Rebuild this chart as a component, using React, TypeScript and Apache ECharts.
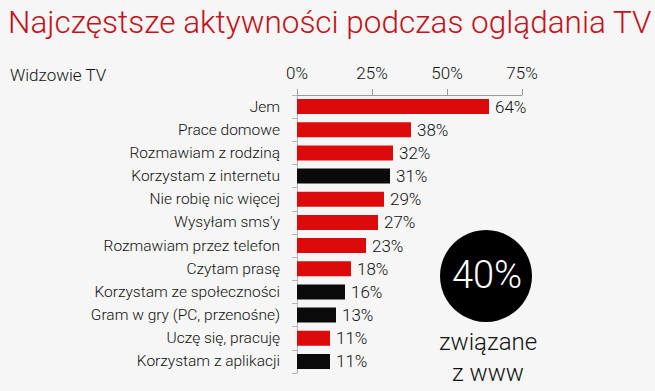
import React, { useEffect, useRef } from "react";
import * as echarts from "echarts";

const categories = [
  "Jem",
  "Prace domowe",
  "Rozmawiam z rodziną",
  "Korzystam z internetu",
  "Nie robię nic więcej",
  "Wysyłam sms’y",
  "Rozmawiam przez telefon",
  "Czytam prasę",
  "Korzystam ze społeczności",
  "Gram w gry (PC, przenośne)",
  "Uczę się, pracuję",
  "Korzystam z aplikacji",
];
const values = [64, 38, 32, 31, 29, 27, 23, 18, 16, 13, 11, 11];
const webRelated = [false, false, false, true, false, false, false, false, true, true, false, true];
const tickValues = [0, 25, 50, 75];
const titleText = "Najczęstsze aktywności podczas oglądania TV";
const subtitleText = "Widzowie TV";
const highlightValue = "40%";
const highlightCaption = "związane\nz www";

const RED = "#dc0a0a";
const BLACK = "#0a0a0a";
const FONT = "Roboto, 'Liberation Sans', sans-serif";

export default function App() {
  const ref = useRef<HTMLDivElement>(null);
  useEffect(() => {
    if (!ref.current) return;
    const chart = echarts.init(ref.current, undefined, { renderer: "svg" });
    chart.setOption({
      animation: false,
      backgroundColor: "#f6f6f6",
      textStyle: { fontFamily: FONT },
      title: [
        {
          text: titleText,
          left: 3,
          top: 1,
          textStyle: { fontFamily: FONT, fontWeight: 300, fontSize: 31.5, color: "#c4121c" },
        },
        {
          text: subtitleText,
          left: 5,
          top: 61,
          textStyle: { fontFamily: FONT, fontWeight: 300, fontSize: 17, color: "#111" },
        },
      ],
      grid: { left: 297, right: 133, top: 95, bottom: 18, containLabel: false },
      xAxis: {
        type: "value",
        position: "top",
        min: tickValues[0],
        max: tickValues[tickValues.length - 1],
        interval: 25,
        axisLine: { show: true, lineStyle: { color: "#9a9a9a", width: 1 } },
        axisTick: { show: true, length: 6, lineStyle: { color: "#9a9a9a" } },
        splitLine: { show: false },
        axisLabel: {
          formatter: "{value}%",
          fontFamily: FONT,
          fontWeight: 300,
          fontSize: 17,
          color: "#111",
          margin: 14,
        },
      },
      yAxis: {
        type: "category",
        data: categories,
        inverse: true,
        axisLine: { show: true, lineStyle: { color: "#b5b5b5" } },
        axisTick: { show: true, length: 5, lineStyle: { color: "#b5b5b5" } },
        axisLabel: { fontFamily: FONT, fontWeight: 300, fontSize: 15.5, color: "#111", margin: 17 },
      },
      series: [
        {
          type: "bar",
          barWidth: 15,
          data: values.map((v, i) => ({
            value: v,
            itemStyle: { color: webRelated[i] ? BLACK : RED },
          })),
          label: {
            show: true,
            position: "right",
            distance: 6,
            formatter: "{c}%",
            fontFamily: FONT,
            fontWeight: 300,
            fontSize: 17,
            color: "#111",
          },
        },
      ],
      graphic: [
        {
          type: "circle",
          shape: { cx: 486, cy: 276, r: 46 },
          style: { fill: "#000" },
        },
        {
          type: "text",
          x: 487,
          y: 275,
          style: {
            text: highlightValue,
            fill: "#fff",
            fontFamily: FONT,
            fontWeight: 300,
            fontSize: 38,
            align: "center",
            verticalAlign: "middle",
          },
        },
        {
          type: "text",
          x: 488,
          y: 357,
          style: {
            text: highlightCaption,
            fill: "#111",
            fontFamily: FONT,
            fontWeight: 300,
            fontSize: 24,
            lineHeight: 31,
            align: "center",
            verticalAlign: "middle",
          },
        },
      ],
    });
    return () => chart.dispose();
  }, []);
  return (
    <div
      ref={ref}
      style={{ position: "absolute", left: 0, top: 0, width: 655, height: 391 }}
    />
  );
}
